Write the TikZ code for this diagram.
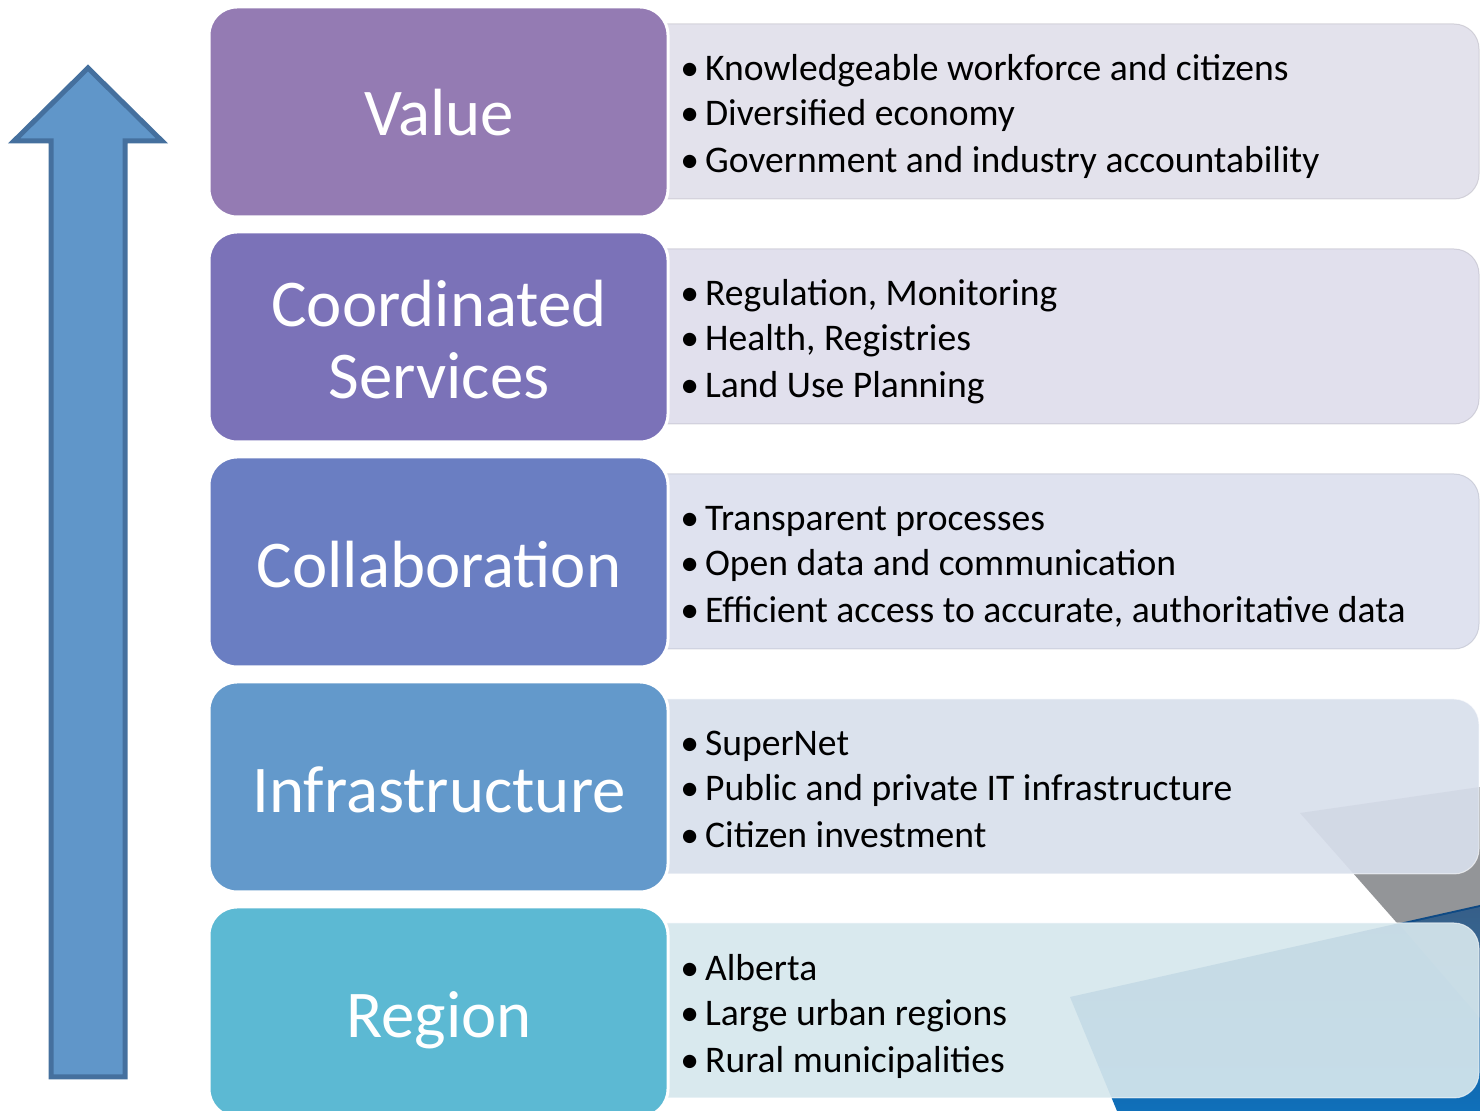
\documentclass[tikz,border=0pt]{standalone}
\usepackage{fontspec}
\setmainfont{Carlito}
\definecolor{cValue}{RGB}{148,123,179}
\definecolor{cCoord}{RGB}{123,114,184}
\definecolor{cCollab}{RGB}{106,126,194}
\definecolor{cInfra}{RGB}{99,153,203}
\definecolor{cRegion}{RGB}{92,185,211}
\definecolor{rValue}{RGB}{225,223,234}
\definecolor{rCoord}{RGB}{222,221,235}
\definecolor{rCollab}{RGB}{220,223,238}
\definecolor{rInfra}{RGB}{216,223,236}
\definecolor{rRegion}{RGB}{214,231,237}
\definecolor{arrFill}{RGB}{96,150,201}
\definecolor{arrLine}{RGB}{69,112,158}
\definecolor{bgGray}{RGB}{147,149,152}
\definecolor{bgDark}{RGB}{14,72,130}
\definecolor{bgBlue}{RGB}{16,112,186}
\tikzset{
  lbox/.style={rectangle, rounded corners=14pt, minimum width=229.5pt, minimum height=105pt,
    draw=white, line width=1.5pt, inner sep=0pt},
  rbox/.style={rectangle, rounded corners=12.5pt, minimum width=439.5pt, minimum height=87.5pt,
    inner sep=0pt, fill opacity=0.92, draw opacity=0.6, line width=0.5pt},
  ttl/.style={text=white, font=\fontsize{33.4}{36}\selectfont, anchor=base, inner sep=0pt},
  itm/.style={text=black, font=\fontsize{18.8}{22.5}\selectfont, anchor=base west, inner sep=0pt},
  arrowshape/.style={fill=arrFill, draw=arrLine, line width=2.5pt, line join=miter},
}
\begin{document}
\begin{tikzpicture}[x=0.5pt,y=-0.5pt]
\useasboundingbox (0,0) rectangle (1480,1111);
\clip (0,0) rectangle (1480,1111);
% background decoration (slide art)
\fill[bgGray] (1300,813) -- (1480,787) -- (1480,1020) -- (1397,923) -- cycle;
\shade[top color=bgDark, bottom color=bgBlue] (1070,997) -- (1480,905) -- (1480,1111) -- (1117,1111) -- cycle;
\fill[bgGray, opacity=0.3] (1400,925) -- (1480,907) -- (1480,1018) -- cycle;

% arrow
\draw[arrowshape] (51,1077) -- (125,1077) -- (125,141) -- (162,141) -- (88,68) -- (14,141) -- (51,141) -- cycle;

% right boxes
\node[rbox, fill=rValue, draw=rValue!85!black] (valueR) at (1039.5,111.5) {};
\node[rbox, fill=rCoord, draw=rCoord!85!black] (coordR) at (1039.5,336.5) {};
\node[rbox, fill=rCollab, draw=rCollab!85!black] (collabR) at (1039.5,561.5) {};
\node[rbox, fill=rInfra, draw=white] (infraR) at (1039.5,786.5) {};
\node[rbox, fill=rRegion, draw=white] (regionR) at (1039.5,1010.5) {};

% left boxes
\node[lbox, fill=cValue] (valueL) at (438.5,112) {};
\node[lbox, fill=cCoord] (coordL) at (438.5,337) {};
\node[lbox, fill=cCollab] (collabL) at (438.5,562) {};
\node[lbox, fill=cInfra] (infraL) at (438.5,787) {};
\node[lbox, fill=cRegion] (regionL) at (438.5,1012) {};

% titles
\node[ttl] (valueT) at (439,136) {Value};
\node[ttl] (coordT1) at (439,327) {Coordinated};
\node[ttl] (coordT2) at (439,399) {Services};
\node[ttl] (collabT) at (439,588) {Collaboration};
\node[ttl] (infraT) at (439,813) {Infrastructure};
\node[ttl] (regionT) at (439,1038) {Region};

% bullet items
\node[itm] (v1) at (680,81) {•\hspace{3pt}Knowledgeable workforce and citizens};
\node[itm] (v2) at (680,126) {•\hspace{3pt}Diversified economy};
\node[itm] (v3) at (680,173) {•\hspace{3pt}Government and industry accountability};

\node[itm] (c1) at (680,306) {•\hspace{3pt}Regulation, Monitoring};
\node[itm] (c2) at (680,351) {•\hspace{3pt}Health, Registries};
\node[itm] (c3) at (680,398) {•\hspace{3pt}Land Use Planning};

\node[itm] (l1) at (680,531) {•\hspace{3pt}Transparent processes};
\node[itm] (l2) at (680,576) {•\hspace{3pt}Open data and communication};
\node[itm] (l3) at (680,623) {•\hspace{3pt}Efficient access to accurate, authoritative data};

\node[itm] (i1) at (680,756) {•\hspace{3pt}SuperNet};
\node[itm] (i2) at (680,801) {•\hspace{3pt}Public and private IT infrastructure};
\node[itm] (i3) at (680,848) {•\hspace{3pt}Citizen investment};

\node[itm] (r1) at (680,981) {•\hspace{3pt}Alberta};
\node[itm] (r2) at (680,1026) {•\hspace{3pt}Large urban regions};
\node[itm] (r3) at (680,1073) {•\hspace{3pt}Rural municipalities};
\end{tikzpicture}
\end{document}
